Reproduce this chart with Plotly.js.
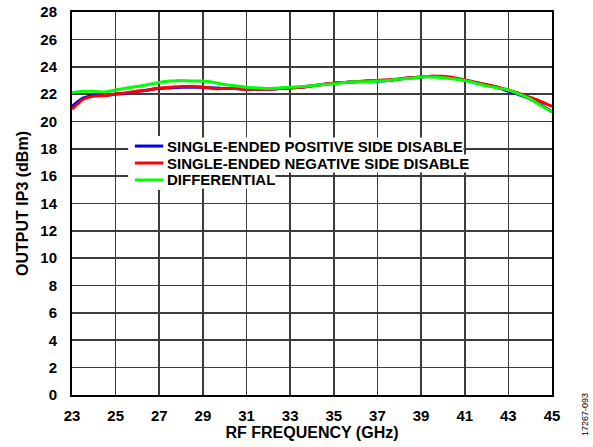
<!DOCTYPE html>
<html>
<head>
<meta charset="utf-8">
<script src="https://cdn.plot.ly/plotly-3.0.1.min.js"></script>
<style>html,body{margin:0;padding:0;background:#fff;}#chart{width:593px;height:447px;}</style>
</head>
<body>
<div id="chart"></div>
<script>
const freqGHz = [23,23.5,24,24.5,25,25.5,26,26.5,27,27.5,28,28.5,29,29.5,30,30.5,31,31.5,32,32.5,33,33.5,34,34.5,35,35.5,36,36.5,37,37.5,38,38.5,39,39.5,40,40.5,41,41.5,42,42.5,43,43.5,44,44.5,45];
const posDisable = [21.1,21.7,21.9,21.9,22.0,22.05,22.2,22.3,22.4,22.45,22.5,22.5,22.5,22.45,22.4,22.4,22.35,22.35,22.35,22.4,22.45,22.5,22.6,22.7,22.8,22.85,22.9,22.95,22.95,23.0,23.1,23.2,23.25,23.3,23.25,23.15,23.0,22.85,22.65,22.5,22.2,21.95,21.65,21.2,20.7];
const negDisable = [20.9,21.6,21.85,21.9,22.0,22.1,22.2,22.3,22.45,22.5,22.55,22.55,22.5,22.4,22.4,22.4,22.35,22.35,22.35,22.4,22.45,22.5,22.6,22.7,22.8,22.85,22.9,22.95,23.0,23.05,23.1,23.2,23.25,23.3,23.3,23.2,23.05,22.85,22.7,22.5,22.3,22.05,21.75,21.45,21.1];
const differential = [22.1,22.2,22.2,22.15,22.3,22.45,22.55,22.7,22.85,22.95,23.0,22.95,22.95,22.85,22.7,22.6,22.5,22.45,22.4,22.45,22.5,22.55,22.6,22.7,22.75,22.85,22.9,22.9,22.95,23.0,23.1,23.15,23.25,23.25,23.2,23.1,23.0,22.8,22.6,22.45,22.3,22.0,21.65,21.15,20.7];
const seriesNames = ["SINGLE-ENDED POSITIVE SIDE DISABLE","SINGLE-ENDED NEGATIVE SIDE DISABLE","DIFFERENTIAL"];
const seriesColors = ["#0000ff","#ff0000","#00ff00"];
const xTicks = [23,25,27,29,31,33,35,37,39,41,43,45];
const yTicks = [0,2,4,6,8,10,12,14,16,18,20,22,24,26,28];

const FAM = '"Liberation Sans", Arial, sans-serif';
const ys = [posDisable, negDisable, differential];
const traces = ys.map((y,i)=>({
  x: freqGHz, y: y, type:'scatter', mode:'lines', name: seriesNames[i], showlegend:false,
  line:{color: seriesColors[i], width: 3, shape:'spline', smoothing:0.6}
}));

// legend drawn as rows (each row has its own white background like the reference)
const rowY = [0.650, 0.6057, 0.5614];
const shapes = [];
const annotations = [];
seriesNames.forEach((nm,i)=>{
  shapes.push({type:'rect', xref:'paper', yref:'paper', x0:0.117, x1:0.205, y0:rowY[i]-0.026, y1:rowY[i]+0.026,
    fillcolor:'#fff', line:{width:0}, layer:'above'});
});
seriesNames.forEach((nm,i)=>{
  shapes.push({type:'line', xref:'paper', yref:'paper', x0:0.131, x1:0.190, y0:rowY[i], y1:rowY[i],
    line:{color:seriesColors[i], width:3}, layer:'above'});
  annotations.push({text:nm, xref:'paper', yref:'paper', x:0.196, y:rowY[i], xanchor:'left', yanchor:'middle',
    showarrow:false, bgcolor:'#fff', borderpad:0,
    font:{family:FAM, size:15, color:'#000', weight:'bold'}});
});
annotations.push({text:'17267-093', xref:'paper', yref:'paper', x:1.069, y:-0.052, xanchor:'center', yanchor:'middle',
  showarrow:false, textangle:-90, font:{family:FAM, size:9, color:'#000'}});

const layout = {
  width:593, height:447,
  margin:{l:72, r:41, t:12, b:52},
  paper_bgcolor:'#fff', plot_bgcolor:'#fff',
  showlegend:false,
  xaxis:{range:[23,45], tickvals:xTicks, ticktext:xTicks.map(String), showgrid:true, gridcolor:'#3c3c3c', gridwidth:1.6,
    showline:true, linecolor:'#000', linewidth:2, mirror:true, ticks:'', zeroline:false, automargin:false,
    ticklabelstandoff:6,
    tickfont:{family:FAM, size:15, color:'#000', weight:'bold'},
    title:{text:'RF FREQUENCY (GHz)', font:{family:FAM, size:16, color:'#000', weight:'bold'}, standoff:4}},
  yaxis:{range:[0,28], tickvals:yTicks, ticktext:yTicks.map(String), showgrid:true, gridcolor:'#3c3c3c', gridwidth:1.6,
    showline:true, linecolor:'#000', linewidth:2, mirror:true, ticks:'', zeroline:false, automargin:false,
    ticklabelstandoff:10,
    tickfont:{family:FAM, size:15, color:'#000', weight:'bold'},
    title:{text:'OUTPUT IP3 (dBm)', font:{family:FAM, size:16, color:'#000', weight:'bold'}, standoff:8}},
  shapes: shapes,
  annotations: annotations
};
Plotly.newPlot('chart', traces, layout, {displayModeBar:false, staticPlot:true});
</script>
</body>
</html>
